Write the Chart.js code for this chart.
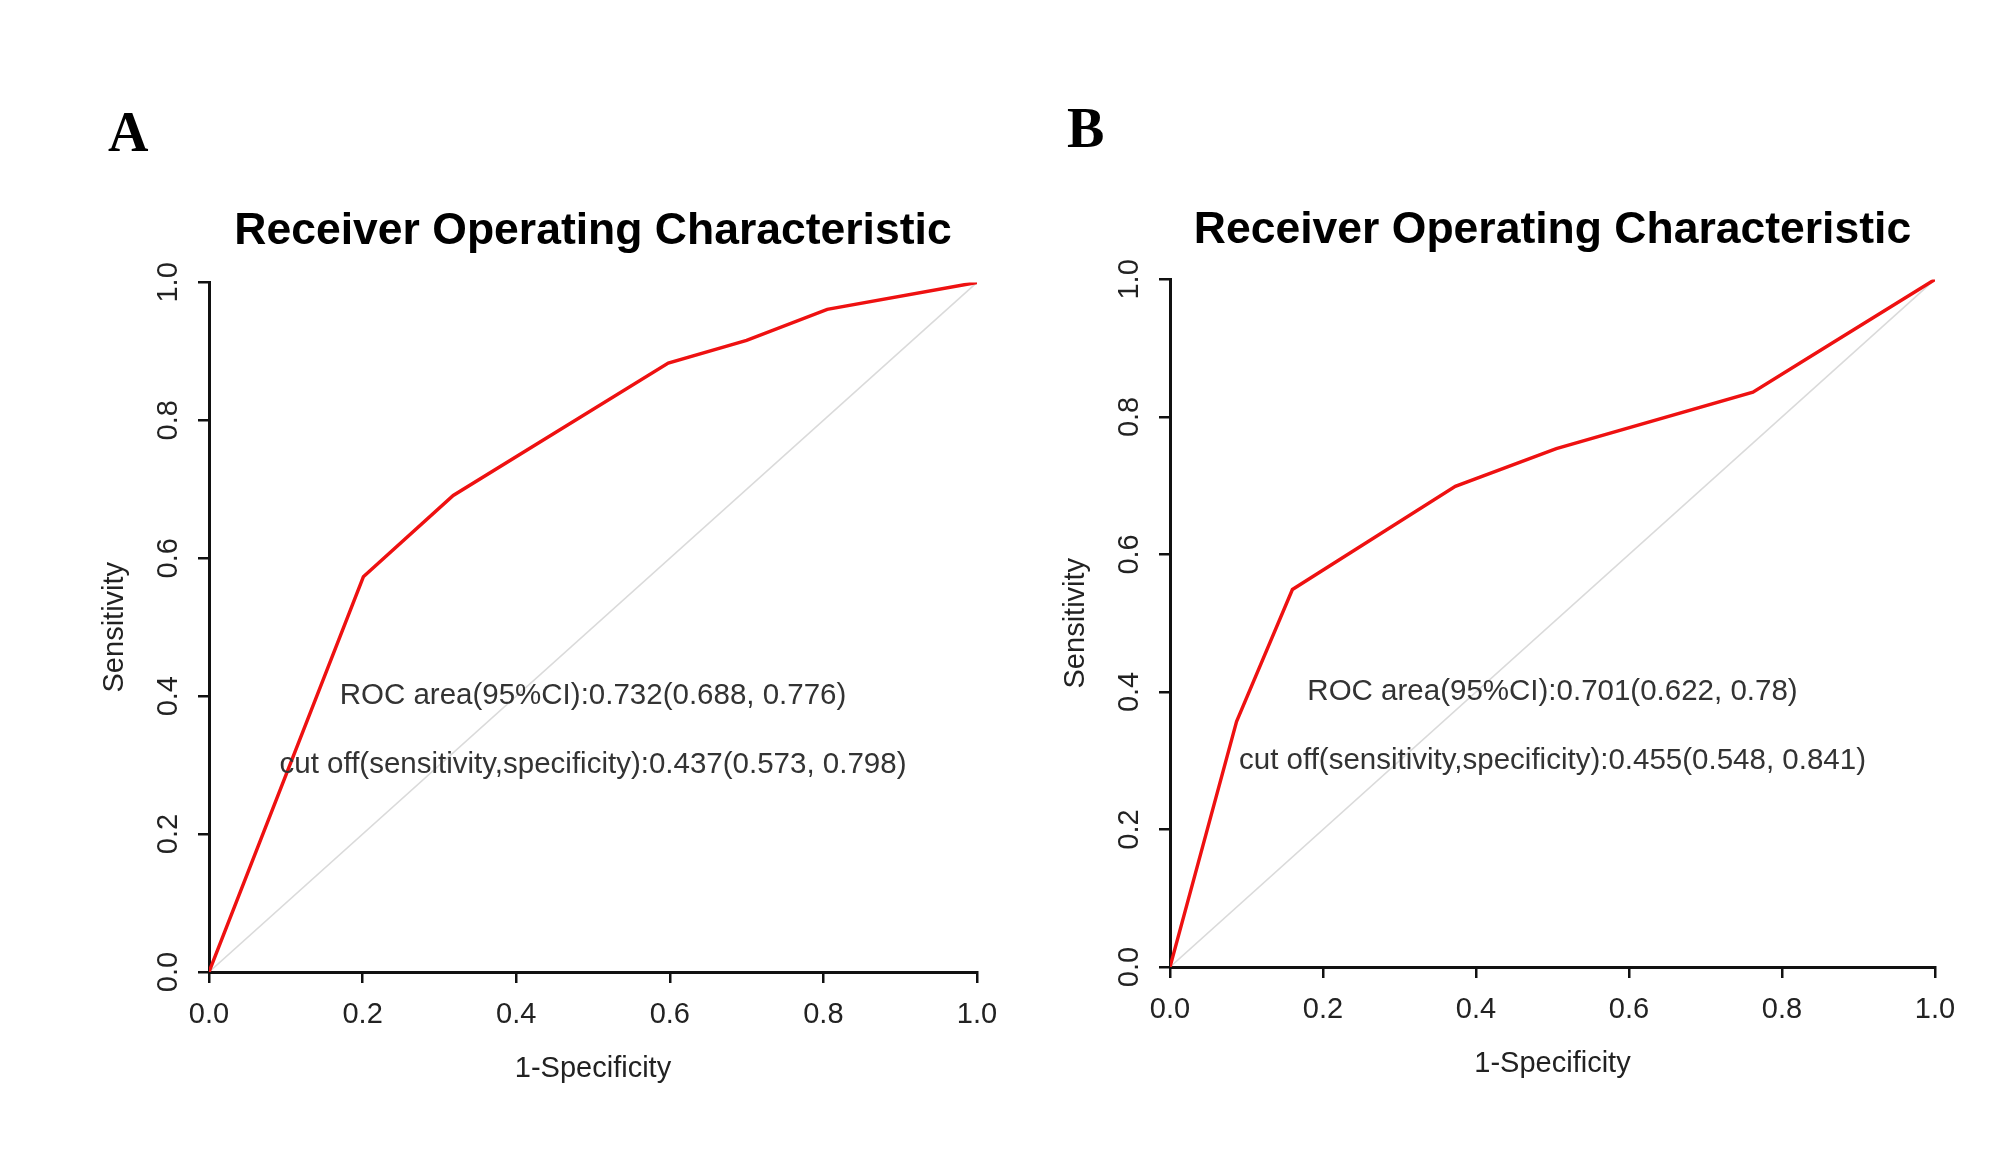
<!DOCTYPE html>
<html>
<head>
<meta charset="utf-8">
<title>Receiver Operating Characteristic</title>
<script src="https://cdn.jsdelivr.net/npm/chart.js@4.4.1/dist/chart.umd.min.js"></script>
<style>
  html, body { margin: 0; padding: 0; background: #ffffff; }
  #wrap { position: relative; width: 2008px; height: 1152px; overflow: hidden; }
  canvas { position: absolute; top: 0; }
</style>
</head>
<body>
<div id="wrap">
  <canvas id="chartA" width="1060" height="1152" style="left:0px"></canvas>
  <canvas id="chartB" width="1004" height="1152" style="left:1004px"></canvas>
</div>
<script>
// ROC curve points (1-specificity, sensitivity)
var fprA = [0, 0.201, 0.318, 0.598, 0.700, 0.805, 1];
var tprA = [0, 0.573, 0.691, 0.883, 0.916, 0.961, 1];

var fprB = [0, 0.087, 0.160, 0.373, 0.505, 0.762, 0.862, 1];
var tprB = [0, 0.357, 0.549, 0.699, 0.754, 0.836, 0.905, 1];

var refX = [0, 1];
var refY = [0, 1];

var tickValues = [0, 0.2, 0.4, 0.6, 0.8, 1.0];

var panelLetters = ['A', 'B'];
var aucTexts = [
    'ROC area(95%CI):0.732(0.688, 0.776)',
    'ROC area(95%CI):0.701(0.622, 0.78)'
];
var cutTexts = [
    'cut off(sensitivity,specificity):0.437(0.573, 0.798)',
    'cut off(sensitivity,specificity):0.455(0.548, 0.841)'
];

var FONT = "'Liberation Sans', Arial, Helvetica, sans-serif";

function toPoints(xs, ys) {
    var pts = [];
    for (var i = 0; i < xs.length; i++) {
        pts.push({x: xs[i], y: ys[i]});
    }
    return pts;
}

// text drawn in data coordinates plus the panel letter
var labelsPlugin = {
    id: 'rocLabels',
    afterDraw: function(chart) {
        var o = chart.options.plugins.rocLabels;
        var ctx = chart.ctx;
        var sx = chart.scales.x, sy = chart.scales.y;
        ctx.save();
        ctx.fillStyle = '#333333';
        ctx.font = '29.5px ' + FONT;
        ctx.textAlign = 'center';
        ctx.textBaseline = 'middle';
        ctx.fillText(o.auc, sx.getPixelForValue(0.5), sy.getPixelForValue(0.4));
        ctx.fillText(o.cut, sx.getPixelForValue(0.5), sy.getPixelForValue(0.3));

        ctx.fillStyle = '#000000';
        ctx.font = "bold 56px 'Liberation Serif', 'Times New Roman', serif";
        ctx.textAlign = 'left';
        ctx.textBaseline = 'alphabetic';
        ctx.fillText(o.letter, o.letterX, o.letterY);
        ctx.restore();
    }
};

function makeChart(id, idx, fpr, tpr, lay) {
    var config = {
        type: 'line',
        data: {
            datasets: [{
                data: toPoints(fpr, tpr),
                borderColor: '#ee1111',
                borderWidth: 3.4,
                pointRadius: 0,
                tension: 0,
                fill: false
            }, {
                data: toPoints(refX, refY),
                borderColor: '#dadada',
                borderWidth: 1.6,
                pointRadius: 0,
                tension: 0,
                fill: false
            }]
        },
        options: {
            responsive: false,
            animation: false,
            devicePixelRatio: 1,
            layout: {
                padding: {left: lay.padLeft, right: lay.padRight, top: 0, bottom: lay.padBottom}
            },
            plugins: {
                legend: {display: false},
                tooltip: {enabled: false},
                title: {
                    display: true,
                    fullSize: false,
                    text: 'Receiver Operating Characteristic',
                    color: '#000000',
                    font: {family: FONT, size: 44.5, weight: 'bold'},
                    padding: {top: lay.titleTop, bottom: lay.titleBottom}
                },
                rocLabels: {
                    auc: aucTexts[idx],
                    cut: cutTexts[idx],
                    letter: panelLetters[idx],
                    letterX: lay.letterX,
                    letterY: lay.letterY
                }
            },
            scales: {
                x: {
                    type: 'linear',
                    min: 0,
                    max: 1,
                    afterBuildTicks: function(scale) {
                        scale.ticks = tickValues.map(function(v) { return {value: v}; });
                    },
                    afterFit: function(scale) { scale.height = 140; },
                    ticks: {
                        color: '#222222',
                        font: {family: FONT, size: 29},
                        padding: 15,
                        maxRotation: 0,
                        callback: function(v) { return Number(v).toFixed(1); }
                    },
                    grid: {
                        drawOnChartArea: false,
                        drawTicks: true,
                        tickLength: 11,
                        color: '#111111',
                        lineWidth: 2.5
                    },
                    border: {display: true, color: '#111111', width: 3},
                    title: {
                        display: true,
                        text: '1-Specificity',
                        color: '#222222',
                        font: {family: FONT, size: 29},
                        padding: {top: 0, bottom: 26}
                    }
                },
                y: {
                    type: 'linear',
                    min: 0,
                    max: 1,
                    afterBuildTicks: function(scale) {
                        scale.ticks = tickValues.map(function(v) { return {value: v}; });
                    },
                    afterFit: function(scale) { scale.width = 130; },
                    ticks: {
                        color: '#222222',
                        font: {family: FONT, size: 29},
                        padding: 9,
                        minRotation: 90,
                        maxRotation: 90,
                        crossAlign: 'center',
                        callback: function(v) { return Number(v).toFixed(1); }
                    },
                    grid: {
                        drawOnChartArea: false,
                        drawTicks: true,
                        tickLength: 11,
                        color: '#111111',
                        lineWidth: 2.5
                    },
                    border: {display: true, color: '#111111', width: 3},
                    title: {
                        display: true,
                        text: 'Sensitivity',
                        color: '#222222',
                        font: {family: FONT, size: 29},
                        padding: {top: 19, bottom: 0}
                    }
                }
            }
        },
        plugins: [labelsPlugin]
    };
    return new Chart(document.getElementById(id), config);
}

makeChart('chartA', 0, fprA, tprA, {
    padLeft: 79, padRight: 83, padBottom: 40,
    titleTop: 205, titleBottom: 24,
    letterX: 108, letterY: 151
});
makeChart('chartB', 1, fprB, tprB, {
    padLeft: 36, padRight: 73, padBottom: 45,
    titleTop: 204, titleBottom: 22,
    letterX: 63, letterY: 147
});
</script>
</body>
</html>
